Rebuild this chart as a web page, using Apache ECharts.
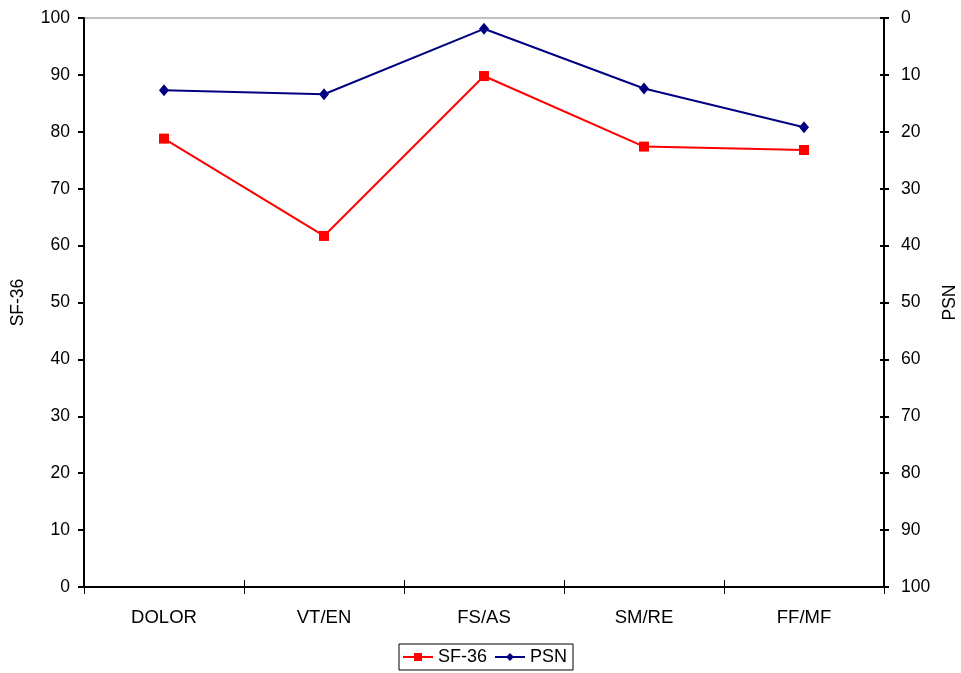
<!DOCTYPE html>
<html>
<head>
<meta charset="utf-8">
<script src="https://cdn.jsdelivr.net/npm/echarts@6/dist/echarts.min.js"></script>
<style>
  html, body { margin: 0; padding: 0; background: #fff; }
  #chart { width: 961px; height: 673px; }
</style>
</head>
<body>
<div id="chart"></div>
<script>
// Dimensions scored on both instruments
const categories = ['DOLOR', 'VT/EN', 'FS/AS', 'SM/RE', 'FF/MF'];
// SF-36 scores (left axis)
const sf36Values = [78.8, 61.7, 89.8, 77.4, 76.8];
// PSN scores (right axis, inverted)
const psnValues = [12.7, 13.4, 1.9, 12.4, 19.2];
// Axis range shared by both scales
const axisMin = 0;
const axisMax = 100;
const axisStep = 10;

const font = 'Liberation Sans, Arial, sans-serif';
const tickStyle = { color: '#000', fontSize: 17.5, fontFamily: font };
const catStyle = { color: '#000', fontSize: 18.5, fontFamily: font };
const nameStyle = { color: '#000', fontSize: 17.5, fontFamily: font };

const gridTop = 18, gridBottom = 86, chartHeight = 673;
const plotHeight = chartHeight - gridTop - gridBottom;

const chart = echarts.init(document.getElementById('chart'), null, { renderer: 'canvas' });

chart.setOption({
  animation: false,
  backgroundColor: '#fff',
  grid: {
    left: 84, right: 77, top: gridTop, bottom: gridBottom,
    outerBoundsMode: 'none',
    containLabel: false,
    show: true, borderColor: '#808080', borderWidth: 1, backgroundColor: 'transparent'
  },
  legend: {
    top: 644,
    left: 399,
    itemGap: 7,
    itemWidth: 30,
    itemHeight: 10,
    padding: [4, 6, 4, 3],
    borderColor: '#000',
    borderWidth: 1,
    borderRadius: 0,
    textStyle: { color: '#000', fontSize: 18, fontFamily: font, padding: [0, 0, 0, 0] },
    data: ['SF-36', 'PSN']
  },
  xAxis: [
    {
      type: 'category',
      data: categories,
      boundaryGap: true,
      position: 'bottom',
      axisLine: { show: true, lineStyle: { color: '#000', width: 2 } },
      axisTick: { show: true, length: 7, lineStyle: { color: '#000', width: 1 } },
      axisLabel: { ...catStyle, margin: 21 },
      splitLine: { show: false }
    },
    {
      // inner half of the crossing category ticks
      type: 'category',
      data: categories,
      boundaryGap: true,
      position: 'top',
      offset: -plotHeight,
      axisLine: { show: false },
      axisTick: { show: true, length: 7, lineStyle: { color: '#000', width: 1 } },
      axisLabel: { show: false },
      splitLine: { show: false }
    }
  ],
  yAxis: [
    {
      type: 'value',
      name: 'SF-36',
      nameLocation: 'middle',
      nameGap: 57,
      nameRotate: 90,
      nameTextStyle: nameStyle,
      min: axisMin, max: axisMax, interval: axisStep,
      position: 'left',
      axisLine: { show: true, lineStyle: { color: '#000', width: 2 } },
      axisTick: { show: true, length: 6, lineStyle: { color: '#000', width: 2 } },
      axisLabel: { ...tickStyle, margin: 14 },
      splitLine: { show: false }
    },
    {
      type: 'value',
      name: 'PSN',
      nameLocation: 'middle',
      nameGap: 55,
      nameRotate: 90,
      nameTextStyle: nameStyle,
      inverse: true,
      min: axisMin, max: axisMax, interval: axisStep,
      position: 'right',
      axisLine: { show: true, lineStyle: { color: '#000', width: 2 } },
      axisTick: { show: true, length: 5, lineStyle: { color: '#000', width: 2 } },
      axisLabel: { ...tickStyle, margin: 17 },
      splitLine: { show: false }
    },
    {
      // inner half of the crossing right-axis ticks
      type: 'value',
      inverse: true,
      min: axisMin, max: axisMax, interval: axisStep,
      position: 'right',
      axisLine: { show: false },
      axisTick: { show: true, inside: true, length: 4, lineStyle: { color: '#000', width: 2 } },
      axisLabel: { show: false },
      splitLine: { show: false }
    }
  ],
  series: [
    {
      name: 'SF-36',
      type: 'line',
      yAxisIndex: 0,
      data: sf36Values,
      symbol: 'rect',
      symbolSize: 10,
      lineStyle: { color: '#ff0000', width: 2 },
      itemStyle: { color: '#ff0000' },
      z: 3
    },
    {
      name: 'PSN',
      type: 'line',
      yAxisIndex: 1,
      data: psnValues,
      symbol: 'diamond',
      symbolSize: [10, 12],
      lineStyle: { color: '#000080', width: 2 },
      itemStyle: { color: '#000080' },
      z: 4
    }
  ]
});
</script>
</body>
</html>
